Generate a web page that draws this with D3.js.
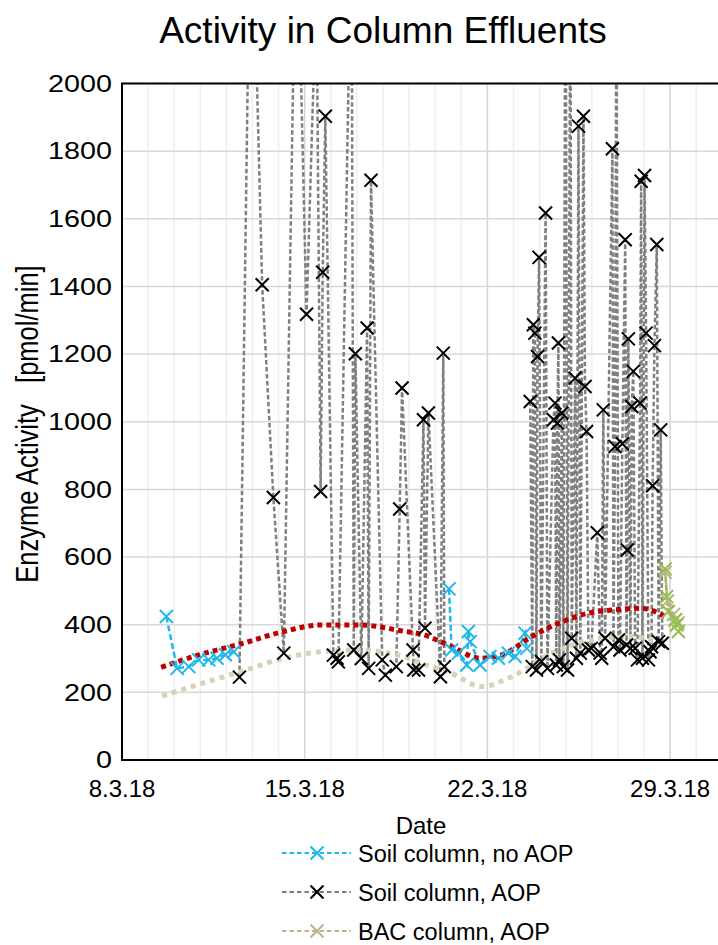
<!DOCTYPE html>
<html>
<head>
<meta charset="utf-8">
<script src="https://cdn.jsdelivr.net/npm/d3@7"></script>
<style>
body { margin: 0; background: #fff; }
svg { display: block; font-family: "Liberation Sans", Arial, sans-serif; }
</style>
</head>
<body>
<svg id="svg1" width="718" height="945"></svg>
<script>
// day of March 2018 (with fraction) , activity in pmol/min ; null = gap in the line
var soilNoAop = [
  [9.70, 424], [10.11, 271], [10.56, 276], [10.94, 296], [11.32, 296], [11.64, 301], [11.96, 311], [12.28, 320],
  null,
  [20.53, 506], [20.63, 325], [20.89, 316], [21.21, 281], [21.27, 380], [21.34, 350], [21.72, 281],
  [22.10, 306], [22.42, 301], [22.80, 316], [23.06, 306], [23.44, 375], [23.51, 330]
];

var soilAop = [
  [12.50, 245], [12.94, 2700], [13.37, 1405], [13.80, 776], [14.20, 316], [14.68, 2600], [15.07, 1318],
  [15.45, 2300], [15.61, 794], [15.69, 1442], [15.79, 1903], [16.10, 310], [16.24, 301], [16.29, 290],
  [16.79, 2500], [16.88, 325], [16.94, 1201], [17.17, 300], [17.39, 1277], [17.45, 271], [17.54, 1714],
  [17.97, 296], [18.09, 251], [18.51, 276], [18.64, 742], [18.73, 1100], [19.15, 325], [19.18, 266],
  [19.36, 266], [19.55, 1006], [19.61, 390], [19.74, 1026], [20.20, 246], [20.31, 1203], [20.35, 276],
  null,
  [23.64, 1060], [23.72, 276], [23.76, 1287], [23.82, 1262], [23.88, 266], [23.92, 1193], [23.98, 1486],
  [24.07, 291], [24.23, 1617], [24.30, 271], [24.53, 1006], [24.59, 1055], [24.64, 281], [24.68, 996],
  [24.72, 1233], [24.76, 296], [24.85, 1026], [24.91, 276], [24.99, 2600], [25.07, 266], [25.18, 2400],
  [25.23, 360], [25.36, 1129], [25.41, 301], [25.49, 1874], [25.56, 316], [25.68, 1903], [25.74, 1104],
  [25.80, 971], [25.87, 325], [25.98, 330], [26.21, 672], [26.32, 316], [26.38, 301], [26.44, 1035],
  [26.51, 360], [26.79, 1807], [26.83, 335], [26.89, 927], [26.94, 2300], [27.02, 355], [27.08, 325],
  [27.17, 935], [27.28, 1538], [27.33, 340], [27.36, 621], [27.40, 1245], [27.48, 330], [27.53, 1045],
  [27.59, 1149], [27.66, 330], [27.75, 296], [27.85, 1055], [27.89, 1711], [27.94, 301], [28.02, 1728],
  [28.08, 1262], [28.17, 296], [28.23, 320], [28.29, 335], [28.33, 811], [28.40, 1225], [28.49, 1524],
  [28.56, 350], [28.64, 976], [28.70, 345]
];

var bacAop = [[28.81, 555], [28.90, 470], [29.13, 430], [29.22, 415], [29.30, 405]];

var bacNoAop = [[28.81, 565], [28.87, 483], [28.93, 439], [29.19, 414], [29.25, 399], [29.32, 380]];

// trend lines
var trendSoilAop = [
  [9.50, 274], [11.00, 312], [12.54, 343], [14.20, 380], [15.60, 399], [17.13, 399], [18.78, 381],
  [19.48, 372], [20.63, 335], [21.72, 301], [22.55, 311], [23.70, 365], [24.72, 404], [25.86, 434],
  [27.02, 445], [27.85, 449], [28.30, 442], [28.81, 424]
];
var trendBac = [
  [9.54, 189], [10.88, 222], [12.54, 261], [14.20, 301], [15.60, 320], [16.88, 325], [18.79, 306],
  [19.48, 286], [20.63, 256], [21.78, 217], [22.93, 246], [24.46, 316], [26.00, 355], [27.53, 365],
  [28.74, 340]
];

var yTicks = [0, 200, 400, 600, 800, 1000, 1200, 1400, 1600, 1800, 2000];
var legendNames = ['Soil column, no AOP', 'Soil column, AOP', 'BAC column, AOP'];

var plotLeft = 122, plotRight = 722.3, plotTop = 83.5, plotBottom = 760;

var svg = d3.select('svg');

function day(d) {
  return new Date(Date.UTC(2018, 2, 1) + (d - 1) * 864e5);
}

var x = d3.scaleUtc()
    .domain([day(8), day(31)])
    .range([plotLeft, plotRight]);

var y = d3.scaleLinear()
    .domain([0, 2000])
    .range([plotBottom, plotTop]);

// title
svg.append('text')
    .attr('x', 383)
    .attr('y', 43)
    .attr('text-anchor', 'middle')
    .style('font-size', '37px')
    .text('Activity in Column Effluents');

svg.append('clipPath')
    .attr('id', 'plotclip')
    .append('rect')
    .attr('x', plotLeft)
    .attr('y', plotTop)
    .attr('width', plotRight - plotLeft)
    .attr('height', plotBottom - plotTop);

//gridlines: one per day, darker one per week
var grid = svg.append('g');
grid.selectAll('.minor')
    .data(d3.utcDay.range(day(9), day(31)))
    .enter()
    .append('line')
    .attr('x1', function(d) { return x(d); })
    .attr('x2', function(d) { return x(d); })
    .attr('y1', plotTop)
    .attr('y2', plotBottom)
    .attr('stroke', function(d) { return (d.getUTCDate() - 1) % 7 === 0 ? '#d4d4d4' : '#efefef'; })
    .attr('stroke-width', 1.5);

grid.selectAll('.hgrid')
    .data(yTicks.slice(1))
    .enter()
    .append('line')
    .attr('x1', plotLeft)
    .attr('x2', plotRight)
    .attr('y1', function(d) { return y(d); })
    .attr('y2', function(d) { return y(d); })
    .attr('stroke', '#d9d9d9')
    .attr('stroke-width', 1.5);

// axes labels (the y labels are a bit wider in the original)
svg.append('g')
    .selectAll('text')
    .data(yTicks)
    .enter()
    .append('text')
    .attr('transform', function(d) { return 'translate(112,' + y(d) + ') scale(1.25,1)'; })
    .attr('dy', '0.36em')
    .attr('text-anchor', 'end')
    .style('font-size', '23px')
    .text(function(d) { return d; });

svg.append('g')
    .selectAll('text')
    .data(x.ticks(d3.utcDay.every(7)))
    .enter()
    .append('text')
    .attr('x', function(d) { return x(d); })
    .attr('y', 797)
    .attr('text-anchor', 'middle')
    .style('font-size', '24px')
    .text(function(d) { return d.getUTCDate() + '.' + (d.getUTCMonth() + 1) + '.18'; });

svg.append('text')
    .attr('x', 421)
    .attr('y', 834)
    .attr('text-anchor', 'middle')
    .style('font-size', '24px')
    .text('Date');

svg.append('text')
    .attr('transform', 'translate(38,424) scale(1.2,1) rotate(-90)')
    .attr('text-anchor', 'middle')
    .style('font-size', '25.5px')
    .style('white-space', 'pre')
    .text('Enzyme Activity   [pmol/min]');

var line = d3.line()
    .defined(function(d) { return d !== null; })
    .x(function(d) { return x(day(d[0])); })
    .y(function(d) { return y(d[1]); });

var trend = d3.line()
    .curve(d3.curveMonotoneX)
    .x(function(d) { return x(day(d[0])); })
    .y(function(d) { return y(d[1]); });

var plot = svg.append('g').attr('clip-path', 'url(#plotclip)');

var cross = 'M-6.5,-6.5L6.5,6.5M-6.5,6.5L6.5,-6.5';

// same order as the legend, green one last
var series = [
  { data: soilNoAop, line: '#1fb8eb', mark: '#1fb8eb', width: 2.5, dash: '6,3' },
  { data: soilAop, line: '#7f7f7f', mark: '#000000', width: 2.5, dash: '4.5,2.5' },
  { data: bacAop, line: '#bdb58a', mark: '#bdb58a', width: 2.5, dash: '5,3' },
  { data: bacNoAop, line: '#92c050', mark: '#92c050', width: 2.5, dash: '5,3' }
];
var drawOrder = [1, 0, 2, 3];

drawOrder.forEach(function(k) {
  var s = series[k];
  plot.append('path')
      .attr('d', line(s.data))
      .attr('fill', 'none')
      .attr('stroke', s.line)
      .attr('stroke-width', s.width)
      .attr('stroke-dasharray', s.dash);
});

plot.append('path')
    .attr('d', trend(trendBac))
    .attr('fill', 'none')
    .attr('stroke', '#d8d2b8')
    .attr('stroke-width', 5)
    .attr('stroke-dasharray', '5,5');

plot.append('path')
    .attr('d', trend(trendSoilAop))
    .attr('fill', 'none')
    .attr('stroke', '#c00000')
    .attr('stroke-width', 5)
    .attr('stroke-dasharray', '5,4');

drawOrder.forEach(function(k) {
  var s = series[k];
  plot.append('g')
      .selectAll('path')
      .data(s.data.filter(function(d) { return d !== null && d[1] <= 2000; }))
      .enter()
      .append('path')
      .attr('transform', function(d) { return 'translate(' + x(day(d[0])) + ',' + y(d[1]) + ')'; })
      .attr('d', cross)
      .attr('stroke', s.mark)
      .attr('stroke-width', 2)
      .attr('fill', 'none');
});

// plot frame
svg.append('rect')
    .attr('x', plotLeft)
    .attr('y', plotTop)
    .attr('width', plotRight - plotLeft)
    .attr('height', plotBottom - plotTop)
    .attr('fill', 'none')
    .attr('stroke', '#000')
    .attr('stroke-width', 2);

// legend
var legend = svg.append('g')
    .selectAll('g')
    .data(legendNames)
    .enter()
    .append('g')
    .attr('transform', function(d, i) { return 'translate(0,' + (853 + i * 39) + ')'; });

legend.append('line')
    .attr('x1', 282)
    .attr('x2', 351)
    .attr('stroke', function(d, i) { return series[i].line; })
    .attr('stroke-width', 2)
    .attr('stroke-dasharray', '4.5,3');

legend.append('path')
    .attr('transform', 'translate(317,0)')
    .attr('d', cross)
    .attr('stroke', function(d, i) { return series[i].mark; })
    .attr('stroke-width', 2)
    .attr('fill', 'none');

legend.append('text')
    .attr('x', 358)
    .attr('y', 9)
    .style('font-size', '23.5px')
    .text(function(d) { return d; });
</script>
</body>
</html>
